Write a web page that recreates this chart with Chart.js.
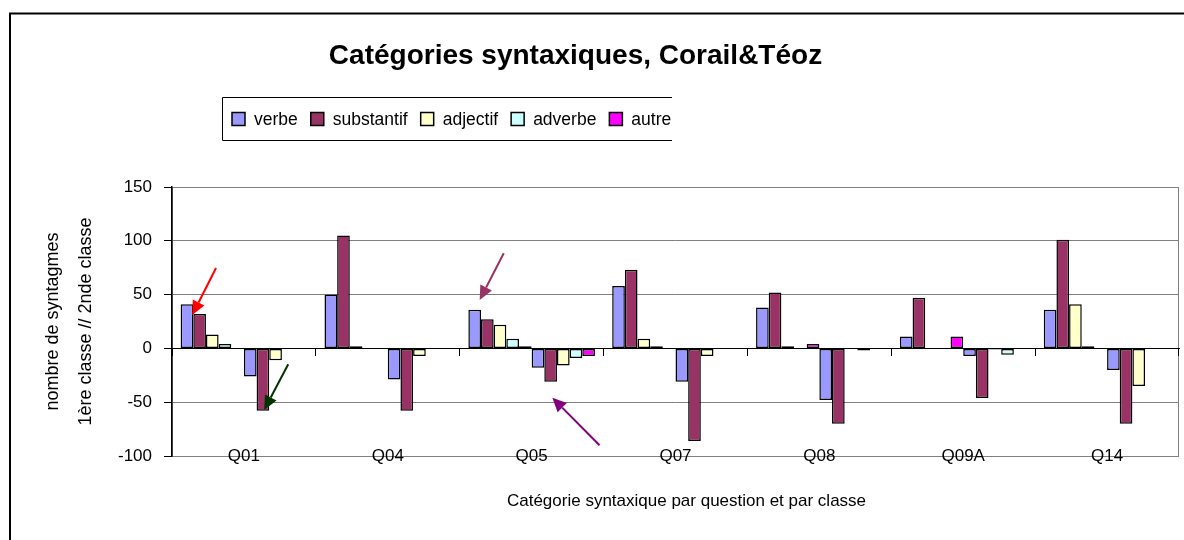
<!DOCTYPE html>
<html><head><meta charset="utf-8">
<script src="https://cdn.jsdelivr.net/npm/chart.js@4.4.1/dist/chart.umd.min.js"></script>
<style>html,body{margin:0;padding:0;background:#fff}canvas{display:block}</style>
</head><body>
<canvas id="c" width="1184" height="540"></canvas>
<script>
// ---- data ----
const questions = ['Q01', 'Q04', 'Q05', 'Q07', 'Q08', 'Q09A', 'Q14'];
const seriesNames = ['verbe', 'substantif', 'adjectif', 'adverbe', 'autre'];
// 1ère classe (positive)
const verbe1      = [41, 50, 36, 58, 38, 11, 36];
const substantif1 = [32, 105, 27, 73, 52, 47, 101];
const adjectif1   = [13, 2, 22, 9, 2, 0, 41];
const adverbe1    = [4, 0, 9, 2, 0, 0, 2];
const autre1      = [0, 0, 2, 0, 4, 11, 0];
// 2nde classe (negative)
const verbe2      = [-26, -29, -18, -31, -48, -7, -20];
const substantif2 = [-58, -58, -31, -86, -70, -46, -70];
const adjectif2   = [-11, -7, -16, -7, 0, -1, -35];
const adverbe2    = [0, 0, -9, 0, -2, -6, 0];
const autre2      = [0, 0, -7, 0, 0, 0, 0];
const yTickValues = [-100, -50, 0, 50, 100, 150];
const chartTitle = 'Catégories syntaxiques, Corail&Téoz';
const xTitle = 'Catégorie syntaxique par question et par classe';
const yTitle = ['nombre de syntagmes', '1ère classe // 2nde classe'];
// annotation arrows: [category index, value]
const arrowFrom = [[-0.194, 74.7], [0.308, -14.8], [1.806, 88.4], [2.472, -90]];
const arrowTo   = [[-0.359, 31], [0.141, -57.2], [1.639, 45], [2.144, -45.8]];
const arrowColors = ['#FF0000', '#003300', '#993366', '#800080'];

// ---- styles ----
const seriesColors = ['#9999FF', '#993366', '#FFFFCC', '#CCFFFF', '#FF00FF'];
function fontAvailable(name){
  const ctx=document.createElement('canvas').getContext('2d');
  const s='Q01 abcdefghijklmnopqrstuvwxyz 0123456789';
  ctx.font='40px monospace'; const w1=ctx.measureText(s).width;
  ctx.font='40px "'+name+'", monospace'; return Math.abs(ctx.measureText(s).width-w1)>0.5;
}
const NARROW = fontAvailable('Liberation Sans Narrow');
const bodyFamily = NARROW ? '"Liberation Sans Narrow", "Liberation Sans", Arial, sans-serif' : '"Liberation Sans", Arial, sans-serif';
const bodySize = NARROW ? 21 : 17;
const legendSize = NARROW ? 21 : 17.5;
const yTitleSize = NARROW ? 22 : 18;

const firstClass = [verbe1, substantif1, adjectif1, adverbe1, autre1];
const secondClass = [verbe2, substantif2, adjectif2, adverbe2, autre2];
function mk(data, i){
  return {label: seriesNames[i], data: data, backgroundColor: seriesColors[i],
    borderColor: '#000', borderWidth: 1.5, borderSkipped: false,
    categoryPercentage: 0.88, barPercentage: 1.0, xAxisID: 'x', yAxisID: 'y'};
}
const datasets = firstClass.map(mk).concat(secondClass.map(mk));

const decor = {
  id: 'decor',
  beforeDraw(chart){
    const {ctx, chartArea: a} = chart;
    ctx.save(); ctx.strokeStyle = '#808080'; ctx.lineWidth = 1;
    ctx.strokeRect(a.left + 0.5, a.top + 0.5, a.right - a.left - 1, a.bottom - a.top);
    ctx.restore();
  },
  afterDraw(chart){
    const ctx = chart.ctx; ctx.save();
    ctx.strokeStyle = '#000'; ctx.lineWidth = 2;
    ctx.beginPath(); ctx.moveTo(10, 540); ctx.lineTo(10, 13.5); ctx.lineTo(1184, 13.5); ctx.stroke();
    ctx.fillStyle = '#000'; ctx.font = 'bold 28px "Liberation Sans", Arial, sans-serif';
    ctx.textAlign = 'center'; ctx.textBaseline = 'alphabetic';
    ctx.fillText(chartTitle, 575.5, 63.5);
    ctx.lineWidth = 1; ctx.beginPath();
    ctx.moveTo(672, 97.5); ctx.lineTo(222.5, 97.5); ctx.lineTo(222.5, 140.5); ctx.lineTo(672, 140.5); ctx.stroke();
    ctx.font = legendSize + 'px ' + bodyFamily; ctx.textAlign = 'left'; ctx.textBaseline = 'middle';
    let x = 232; const cy = 119;
    seriesNames.forEach((n, i) => {
      ctx.fillStyle = seriesColors[i]; ctx.fillRect(x, cy - 6.5, 13, 13);
      ctx.strokeStyle = '#000'; ctx.lineWidth = 1.5; ctx.strokeRect(x, cy - 6.5, 13, 13);
      ctx.fillStyle = '#000'; ctx.fillText(n, x + 22, cy + 1);
      x += 22 + ctx.measureText(n).width + 13;
    });
    ctx.font = bodySize + 'px ' + bodyFamily;
    ctx.textAlign = 'center'; ctx.fillText(xTitle, 686.5, 501);
    const xs = chart.scales.x, ys = chart.scales.y;
    arrowFrom.forEach((f, i) => {
      const t = arrowTo[i];
      const x1 = xs.getPixelForValue(f[0]), y1 = ys.getPixelForValue(f[1]);
      const x2 = xs.getPixelForValue(t[0]), y2 = ys.getPixelForValue(t[1]);
      const ang = Math.atan2(y2 - y1, x2 - x1), L = 14, W = 6.5;
      const bx = x2 - L * Math.cos(ang), by = y2 - L * Math.sin(ang);
      ctx.strokeStyle = arrowColors[i]; ctx.fillStyle = arrowColors[i]; ctx.lineWidth = 2;
      ctx.beginPath(); ctx.moveTo(x1, y1); ctx.lineTo(bx, by); ctx.stroke();
      ctx.beginPath(); ctx.moveTo(x2, y2);
      ctx.lineTo(bx + W * Math.sin(ang), by - W * Math.cos(ang));
      ctx.lineTo(bx - W * Math.sin(ang), by + W * Math.cos(ang));
      ctx.closePath(); ctx.fill();
    });
    ctx.restore();
  }
};

Chart.defaults.color = '#000';
new Chart(document.getElementById('c'), {
  type: 'bar',
  data: {labels: questions, datasets: datasets},
  options: {
    responsive: false, animation: false, devicePixelRatio: 1,
    layout: {padding: {top: 187, right: 5, bottom: 0, left: 0}},
    plugins: {legend: {display: false}, title: {display: false}, tooltip: {enabled: false}},
    scales: {
      x: {
        type: 'category', position: 'bottom', offset: true,
        grid: {display: false, drawTicks: false}, border: {display: false},
        ticks: {font: {family: bodyFamily, size: bodySize}, color: '#000', mirror: true, padding: -11, maxRotation: 0, autoSkip: false},
        afterFit(s){ s.height = 84; }
      },
      x2: {
        type: 'category', labels: questions, position: {y: 0}, offset: true,
        grid: {display: true, offset: true, drawOnChartArea: false, drawTicks: true, tickLength: 7, color: '#000'},
        border: {display: true, color: '#000', width: 1},
        ticks: {display: false}
      },
      y: {
        type: 'linear', min: -100, max: 150,
        afterBuildTicks(s){ s.ticks = yTickValues.map(v => ({value: v})); },
        grid: {color: '#808080', tickColor: '#000', tickLength: 8, drawTicks: true},
        border: {display: true, color: '#000', width: 1.5},
        ticks: {font: {family: bodyFamily, size: bodySize}, color: '#000', padding: 12},
        title: {display: true, text: yTitle, color: '#000',
          font: {family: bodyFamily, size: yTitleSize, lineHeight: 33 / yTitleSize},
          padding: {top: 36.5, bottom: 0}},
        afterFit(s){ s.width = 172; }
      }
    }
  },
  plugins: [decor]
});
</script>
</body></html>
